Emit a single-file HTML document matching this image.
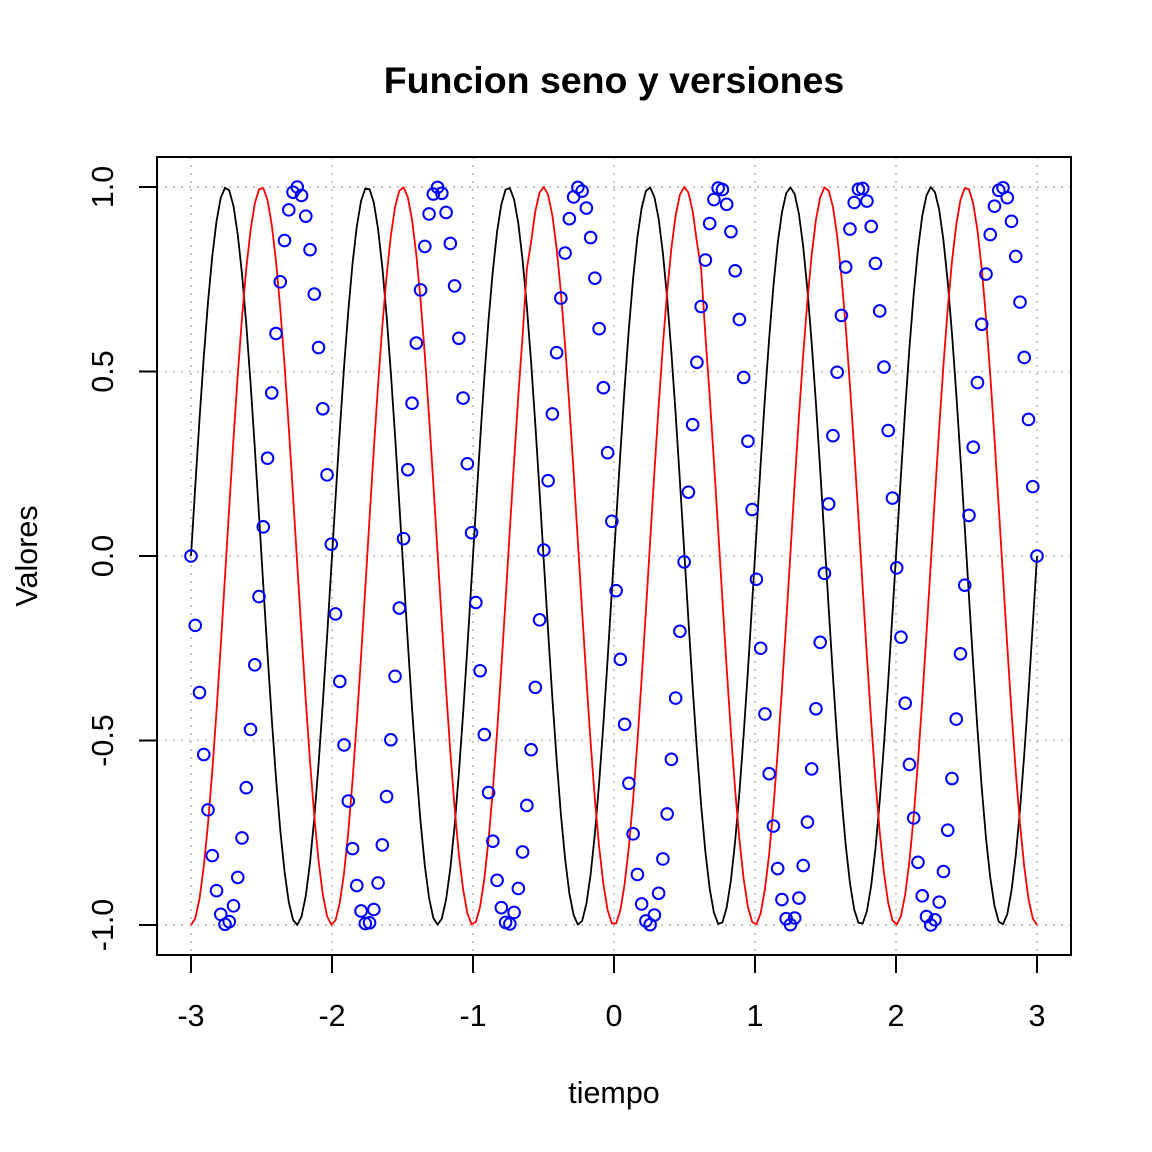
<!DOCTYPE html>
<html><head><meta charset="utf-8"><style>
html,body{margin:0;padding:0;background:#fff;}
svg{display:block;font-family:"Liberation Sans",Arial,sans-serif;}
</style></head><body>
<svg id="chart" width="1152" height="1152" viewBox="0 0 1152 1152" xmlns="http://www.w3.org/2000/svg">
<rect width="1152" height="1152" fill="#fff"/>
<text x="614" y="93" text-anchor="middle" font-size="37.5" font-weight="bold">Funcion seno y versiones</text>
<text x="614" y="1103" text-anchor="middle" font-size="30.5">tiempo</text>
<text transform="translate(37,556) rotate(-90)" text-anchor="middle" font-size="30.5">Valores</text>
<g id="grid"></g>
<g id="series"></g>
<rect x="157" y="157" width="914" height="798" fill="none" stroke="#000" stroke-width="2"/>
<g id="axes"></g>
</svg>
<script>
const xStart = -3;
const xEnd = 3;
const nPoints = 200;
const xTicks = [-3, -2, -1, 0, 1, 2, 3];
const xTickLabels = ["-3", "-2", "-1", "0", "1", "2", "3"];
const yTicks = [-1, -0.5, 0, 0.5, 1];
const yTickLabels = ["-1.0", "-0.5", "0.0", "0.5", "1.0"];
const seno = [0,.188,.370,.538,.688,.812,.907,.971,.998,.991,.948,.871,.764,.628,.470,.295,.110,-.079,-.265,-.442,-.603,-.743,-.855,-.938,-.986,-1,-.977,-.921,-.830,-.710,-.565,-.399,-.220,-.032,.157,.340,.512,.664,.793,.893,.962,.996,.994,.958,.886,.783,.652,.498,.326,.141,-.047,-.234,-.414,-.577,-.721,-.839,-.927,-.981,-.999,-.983,-.931,-.847,-.732,-.590,-.428,-.250,-.063,.126,.311,.484,.641,.773,.879,.953,.993,.997,.966,.901,.802,.676,.525,.356,.173,-.016,-.204,-.385,-.551,-.699,-.821,-.914,-.973,-.999,-.989,-.943,-.863,-.753,-.616,-.456,-.280,-.094,
.094,.280,.456,.616,.753,.863,.943,.989,.999,.973,.914,.821,.699,.551,.385,.204,.016,-.173,-.356,-.525,-.676,-.802,-.901,-.966,-.997,-.993,-.953,-.879,-.773,-.641,-.484,-.311,-.126,.063,.250,.428,.590,.732,.847,.931,.983,.999,.981,.927,.839,.721,.577,.414,.234,.047,-.141,-.326,-.498,-.652,-.783,-.886,-.958,-.994,-.996,-.962,-.893,-.793,-.664,-.512,-.340,-.157,.032,.220,.399,.565,.710,.830,.921,.977,1,.986,.938,.855,.743,.603,.442,.265,.079,-.110,-.295,-.470,-.628,-.764,-.871,-.948,-.991,-.998,-.971,-.907,-.812,-.688,-.538,-.370,-.188,0];
const coseno = [-1,-.982,-.929,-.842,-.726,-.584,-.421,-.243,-.055,.133,.318,.491,.646,.779,.882,.955,.994,.997,.965,.897,.798,.670,.518,.348,.165,-.024,-.211,-.392,-.558,-.705,-.826,-.917,-.976,-.999,-.987,-.940,-.859,-.748,-.609,-.449,-.273,-.087,.103,.288,.463,.622,.758,.867,.946,.990,.999,.972,.911,.816,.693,.545,.377,.197,.008,-.180,-.362,-.532,-.681,-.808,-.903,-.968,-.998,-.992,-.951,-.875,-.768,-.635,-.477,-.303,-.118,.071,.257,.435,.597,.778,.851,.935,.985,1,.979,.923,.834,.716,.571,.406,.227,.039,-.150,-.333,-.505,-.659,-.788,-.889,-.960,-.996,
-.996,-.960,-.889,-.788,-.659,-.505,-.333,-.150,.039,.227,.406,.571,.716,.834,.923,.979,1,.985,.935,.851,.778,.597,.435,.257,.071,-.118,-.303,-.477,-.635,-.768,-.875,-.951,-.992,-.998,-.968,-.903,-.808,-.681,-.532,-.362,-.180,.008,.197,.377,.545,.693,.816,.911,.972,.999,.990,.946,.867,.758,.622,.463,.288,.103,-.087,-.273,-.449,-.609,-.748,-.859,-.940,-.987,-.999,-.976,-.917,-.826,-.705,-.558,-.392,-.211,-.024,.165,.348,.518,.670,.798,.897,.965,.997,.994,.955,.882,.779,.646,.491,.318,.133,-.055,-.243,-.421,-.584,-.726,-.842,-.929,-.982,-1];
const puntos = [0,-.188,-.370,-.538,-.688,-.812,-.907,-.971,-.998,-.991,-.948,-.871,-.764,-.628,-.470,-.295,-.110,.079,.265,.442,.603,.743,.855,.938,.986,1,.977,.921,.830,.710,.565,.399,.220,.032,-.157,-.340,-.512,-.664,-.793,-.893,-.962,-.996,-.994,-.958,-.886,-.783,-.652,-.498,-.326,-.141,.047,.234,.414,.577,.721,.839,.927,.981,.999,.983,.931,.847,.732,.590,.428,.250,.063,-.126,-.311,-.484,-.641,-.773,-.879,-.953,-.993,-.997,-.966,-.901,-.802,-.676,-.525,-.356,-.173,.016,.204,.385,.551,.699,.821,.914,.973,.999,.989,.943,.863,.753,.616,.456,.280,.094,
-.094,-.280,-.456,-.616,-.753,-.863,-.943,-.989,-.999,-.973,-.914,-.821,-.699,-.551,-.385,-.204,-.016,.173,.356,.525,.676,.802,.901,.966,.997,.993,.953,.879,.773,.641,.484,.311,.126,-.063,-.250,-.428,-.590,-.732,-.847,-.931,-.983,-.999,-.981,-.927,-.839,-.721,-.577,-.414,-.234,-.047,.141,.326,.498,.652,.783,.886,.958,.994,.996,.962,.893,.793,.664,.512,.340,.157,-.032,-.220,-.399,-.565,-.710,-.830,-.921,-.977,-1,-.986,-.938,-.855,-.743,-.603,-.442,-.265,-.079,.110,.295,.470,.628,.764,.871,.948,.991,.998,.971,.907,.812,.688,.538,.370,.188,0];

const NS = "http://www.w3.org/2000/svg";
function sx(v){ return 191 + (v + 3) * (1037 - 191) / 6; }
function sy(v){ return 556 - v * (925 - 187) / 2; }
function xAt(i){ return xStart + i * (xEnd - xStart) / (nPoints - 1); }
function mk(tag, attrs, parent){ const e = document.createElementNS(NS, tag); for (const k in attrs) e.setAttribute(k, attrs[k]); parent.appendChild(e); return e; }
const grid = document.getElementById('grid');
const axes = document.getElementById('axes');
const series = document.getElementById('series');

xTicks.forEach((t, i) => {
  const g = mk('line', {x1: sx(t), x2: sx(t), y1: 157, y2: 955, stroke: '#c8c8c8', 'stroke-width': 2, 'stroke-dasharray': '2 6'}, grid);
  
  
  const tk = mk('line', {x1: sx(t), x2: sx(t), y1: 955, y2: 973, stroke: '#000', 'stroke-width': 2}, axes);
  
  
  const lb = mk('text', {x: sx(t), y: 1026, 'text-anchor': 'middle', 'font-size': 30.5}, axes);
  lb.textContent = xTickLabels[i];
  
  
});
mk('line', {x1: sx(-3), x2: sx(3), y1: 955, y2: 955, stroke: '#000', 'stroke-width': 2}, axes);
yTicks.forEach((t, i) => {
  const g = mk('line', {x1: 157, x2: 1071, y1: sy(t), y2: sy(t), stroke: '#c8c8c8', 'stroke-width': 2, 'stroke-dasharray': '2 6'}, grid);
  
  
  const tk = mk('line', {x1: 139, x2: 157, y1: sy(t), y2: sy(t), stroke: '#000', 'stroke-width': 2}, axes);
  
  
  const lb = mk('text', {transform: `translate(113,${sy(t)}) rotate(-90)`, 'text-anchor': 'middle', 'font-size': 30.5}, axes);
  lb.textContent = yTickLabels[i];
  
  
});

function linePath(arr){ return arr.map((v, i) => (i ? 'L' : 'M') + sx(xAt(i)).toFixed(2) + ',' + sy(v).toFixed(2)).join(''); }
const lb = mk('path', {d: linePath(seno), fill: 'none', stroke: '#000', 'stroke-width': 1.8, 'stroke-linejoin': 'round'}, series);


const lr = mk('path', {d: linePath(coseno), fill: 'none', stroke: '#ff0000', 'stroke-width': 1.8, 'stroke-linejoin': 'round'}, series);


puntos.forEach((v, i) => {
  const c = mk('circle', {cx: sx(xAt(i)), cy: sy(v), r: 5.8, fill: 'none', stroke: '#0000ff', 'stroke-width': 2}, series);
  
  
});
</script>
</body></html>
